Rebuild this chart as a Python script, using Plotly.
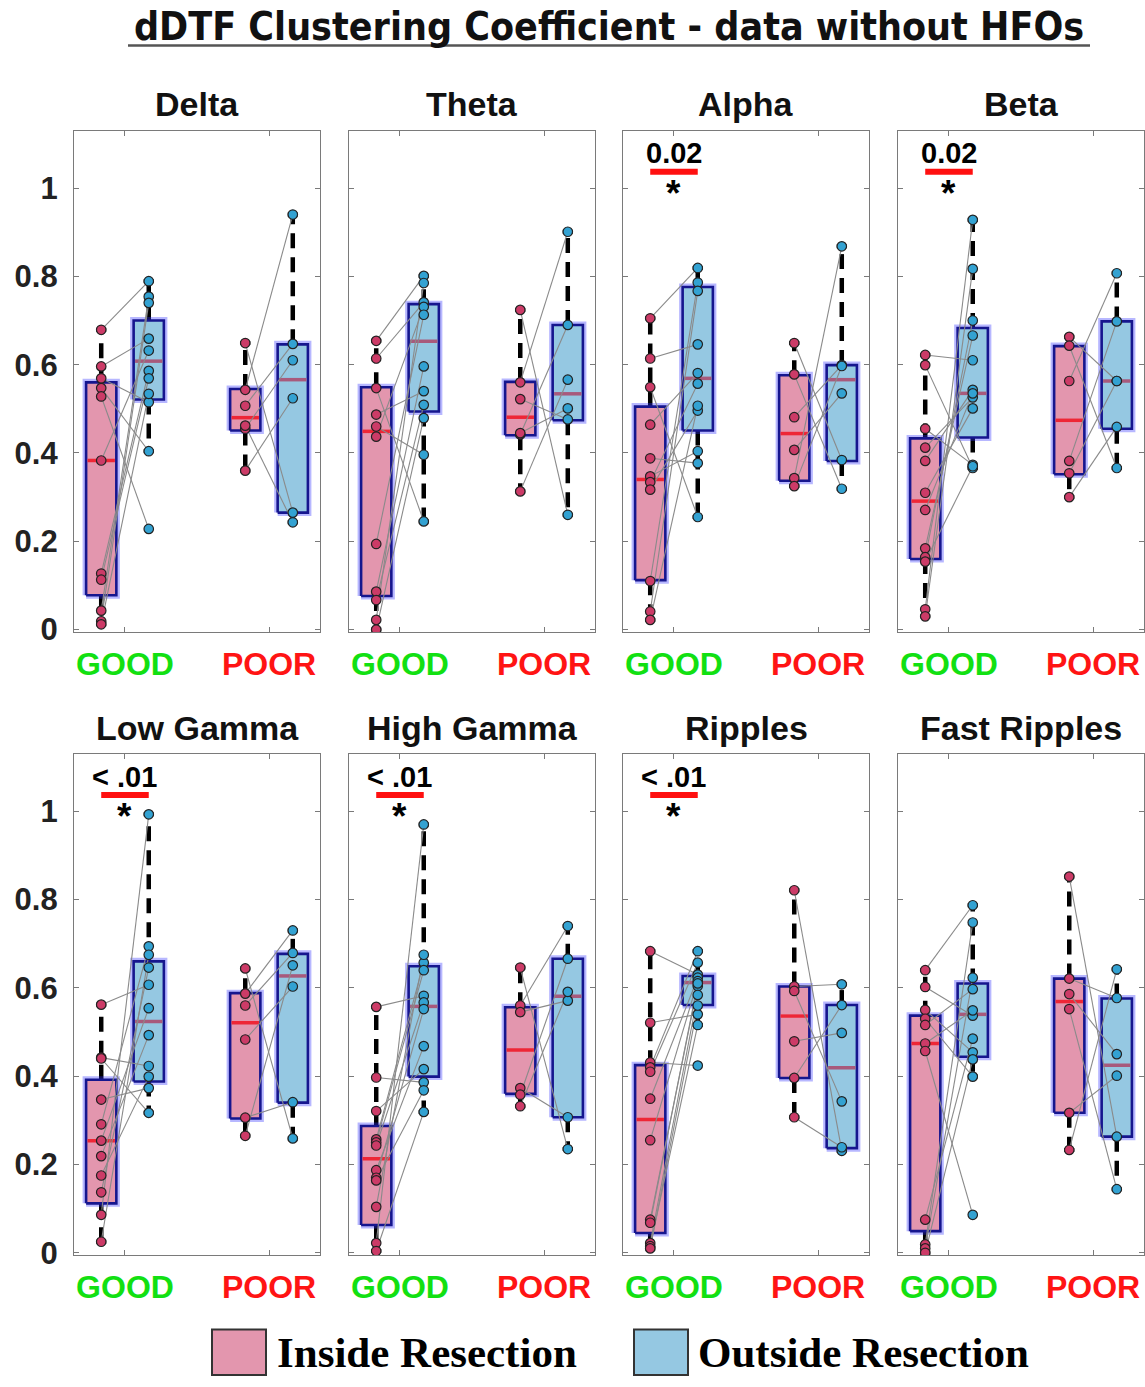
import plotly.graph_objects as go
from plotly.subplots import make_subplots

W, H = 1145, 1387

# ---------------- data ----------------
bands = ["Delta", "Theta", "Alpha", "Beta", "Low Gamma", "High Gamma", "Ripples", "Fast Ripples"]
group_labels = ["GOOD", "POOR"]
group_label_colors = ["#12e012", "#ff1414"]
y_tick_vals = [0, 0.2, 0.4, 0.6, 0.8, 1]
y_tick_text = ["0", "0.2", "0.4", "0.6", "0.8", "1"]
sig_text = ["", "", "0.02", "0.02", "< .01", "< .01", "< .01", ""]
legend_labels = ["Inside Resection", "Outside Resection"]

# paired values (same index = same patient): inside vs outside resection
delta_good_in = [0.679, 0.596, 0.569, 0.547, 0.528, 0.383, 0.127, 0.113, 0.043, 0.019, 0.012]
delta_good_out = [0.789, 0.659, 0.515, 0.404, 0.228, 0.632, 0.586, 0.569, 0.754, 0.740, 0.534]
delta_poor_in = [0.543, 0.649, 0.507, 0.455, 0.360, 0.462]
delta_poor_out = [0.940, 0.265, 0.647, 0.610, 0.524, 0.243]
delta_q1 = [0.078, 0.521, 0.451, 0.265]
delta_med = [0.383, 0.608, 0.480, 0.566]
delta_q3 = [0.560, 0.700, 0.545, 0.646]

theta_good_in = [0.654, 0.614, 0.547, 0.487, 0.460, 0.437, 0.194, 0.086, 0.067, 0.022, 0.000]
theta_good_out = [0.801, 0.741, 0.245, 0.540, 0.396, 0.731, 0.713, 0.596, 0.509, 0.785, 0.479]
theta_poor_in = [0.724, 0.560, 0.522, 0.442, 0.313, 0.445]
theta_poor_out = [0.260, 0.901, 0.476, 0.690, 0.566, 0.501]
theta_q1 = [0.076, 0.494, 0.440, 0.474]
theta_med = [0.449, 0.653, 0.481, 0.534]
theta_q3 = [0.549, 0.737, 0.561, 0.690]

alpha_good_in = [0.705, 0.614, 0.549, 0.464, 0.388, 0.347, 0.334, 0.317, 0.110, 0.041, 0.022]
alpha_good_out = [0.819, 0.646, 0.255, 0.581, 0.377, 0.404, 0.557, 0.496, 0.786, 0.767, 0.507]
alpha_poor_in = [0.649, 0.578, 0.481, 0.407, 0.343, 0.325]
alpha_poor_out = [0.384, 0.319, 0.599, 0.535, 0.868, 0.597]
alpha_q1 = [0.112, 0.451, 0.337, 0.382]
alpha_med = [0.340, 0.569, 0.444, 0.566]
alpha_q3 = [0.505, 0.776, 0.576, 0.599]

beta_good_in = [0.622, 0.599, 0.455, 0.412, 0.382, 0.310, 0.271, 0.184, 0.164, 0.154, 0.046, 0.030]
beta_good_out = [0.610, 0.366, 0.373, 0.526, 0.543, 0.501, 0.535, 0.666, 0.700, 0.370, 0.928, 0.817]
beta_poor_in = [0.663, 0.643, 0.563, 0.382, 0.354, 0.300]
beta_poor_out = [0.563, 0.366, 0.807, 0.698, 0.563, 0.459]
beta_q1 = [0.160, 0.435, 0.352, 0.455]
beta_med = [0.291, 0.535, 0.474, 0.563]
beta_q3 = [0.433, 0.683, 0.642, 0.698]

lowgamma_good_in = [0.562, 0.442, 0.440, 0.347, 0.291, 0.254, 0.219, 0.175, 0.137, 0.086, 0.025]
lowgamma_good_out = [0.607, 0.423, 0.317, 0.373, 0.694, 0.554, 0.493, 0.399, 0.646, 0.993, 0.675]
lowgamma_poor_in = [0.644, 0.587, 0.560, 0.483, 0.306, 0.265]
lowgamma_poor_out = [0.259, 0.730, 0.679, 0.603, 0.341, 0.651]
lowgamma_q1 = [0.112, 0.388, 0.304, 0.340]
lowgamma_med = [0.254, 0.524, 0.521, 0.627]
lowgamma_q3 = [0.392, 0.660, 0.588, 0.677]

highgamma_good_in = [0.557, 0.397, 0.321, 0.257, 0.250, 0.243, 0.187, 0.170, 0.164, 0.104, 0.022, 0.004]
highgamma_good_out = [0.582, 0.386, 0.416, 0.657, 0.640, 0.567, 0.468, 0.552, 0.368, 0.675, 0.970, 0.319]
highgamma_poor_in = [0.646, 0.560, 0.545, 0.373, 0.358, 0.332]
highgamma_poor_out = [0.235, 0.740, 0.571, 0.307, 0.666, 0.591]
highgamma_q1 = [0.063, 0.399, 0.360, 0.307]
highgamma_med = [0.213, 0.558, 0.459, 0.581]
highgamma_q3 = [0.287, 0.649, 0.556, 0.666]

ripples_good_in = [0.683, 0.521, 0.431, 0.420, 0.410, 0.349, 0.255, 0.075, 0.068, 0.022, 0.015, 0.010]
ripples_good_out = [0.630, 0.540, 0.424, 0.683, 0.657, 0.623, 0.615, 0.604, 0.610, 0.584, 0.516, 0.560]
ripples_poor_in = [0.821, 0.603, 0.593, 0.479, 0.396, 0.307]
ripples_poor_out = [0.231, 0.608, 0.343, 0.498, 0.561, 0.239]
ripples_q1 = [0.045, 0.561, 0.396, 0.237]
ripples_med = [0.302, 0.612, 0.536, 0.419]
ripples_q3 = [0.425, 0.627, 0.603, 0.561]

fastripples_good_in = [0.640, 0.602, 0.550, 0.530, 0.516, 0.474, 0.457, 0.075, 0.019, 0.010, 0.000]
fastripples_good_out = [0.787, 0.537, 0.454, 0.399, 0.597, 0.549, 0.086, 0.485, 0.748, 0.623, 0.438]
fastripples_poor_in = [0.852, 0.621, 0.586, 0.552, 0.317, 0.233]
fastripples_poor_out = [0.263, 0.577, 0.450, 0.144, 0.401, 0.642]
fastripples_q1 = [0.049, 0.444, 0.317, 0.263]
fastripples_med = [0.474, 0.540, 0.569, 0.425]
fastripples_q3 = [0.537, 0.610, 0.621, 0.576]

panels = [
    (delta_good_in, delta_good_out, delta_poor_in, delta_poor_out, delta_q1, delta_med, delta_q3),
    (theta_good_in, theta_good_out, theta_poor_in, theta_poor_out, theta_q1, theta_med, theta_q3),
    (alpha_good_in, alpha_good_out, alpha_poor_in, alpha_poor_out, alpha_q1, alpha_med, alpha_q3),
    (beta_good_in, beta_good_out, beta_poor_in, beta_poor_out, beta_q1, beta_med, beta_q3),
    (lowgamma_good_in, lowgamma_good_out, lowgamma_poor_in, lowgamma_poor_out, lowgamma_q1, lowgamma_med, lowgamma_q3),
    (highgamma_good_in, highgamma_good_out, highgamma_poor_in, highgamma_poor_out, highgamma_q1, highgamma_med, highgamma_q3),
    (ripples_good_in, ripples_good_out, ripples_poor_in, ripples_poor_out, ripples_q1, ripples_med, ripples_q3),
    (fastripples_good_in, fastripples_good_out, fastripples_poor_in, fastripples_poor_out, fastripples_q1, fastripples_med, fastripples_q3),
]

# ---------------- style ----------------
OFF = 0.165      # inside/outside offset from group centre
HALF = 0.105     # half box width
CAP = 0.035      # half cap width
FILLS = ["#e396ae", "#95c8e2"]
PTS = ["#cc3b67", "#33a2d2"]
MEDS = ["#ee2636", "#a85a7c"]
EDGE = "#16168e"
GLOW = "rgba(50,50,255,0.35)"
LINK = "#8a8a8a"
AXC = "#7a7a7a"

fig = make_subplots(rows=2, cols=4)

col_left = [74, 349, 623, 898]
panel_w = 246
row_top = [132.5, 762.5]
panel_h = 506.5
XR = [0.646, 2.354]
YR = [-0.0056, 1.129]


def px_x(px):
    return px / W


def px_y(py):
    return 1 - py / H


for i, (gi, go_, pi, po, q1s, meds, q3s) in enumerate(panels):
    r, c = i // 4 + 1, i % 4 + 1
    groups = [(1, gi, go_), (2, pi, po)]
    k = 0
    for g, vin, vout in groups:
        for side, vals in ((0, vin), (1, vout)):
            xc = g - OFF if side == 0 else g + OFF
            q1, md, q3 = q1s[k], meds[k], q3s[k]
            iqr = q3 - q1
            lo = min(v for v in vals if v >= q1 - 1.5 * iqr)
            hi = max(v for v in vals if v <= q3 + 1.5 * iqr)
            fig.add_trace(go.Scatter(x=[xc, xc, None, xc, xc], y=[q3, hi, None, q1, lo], mode="lines",
                                     line=dict(color="black", width=4.5, dash="15px,9px"),
                                     hoverinfo="skip", showlegend=False), row=r, col=c)
            fig.add_trace(go.Scatter(x=[xc - CAP, xc + CAP, None, xc - CAP, xc + CAP], y=[hi, hi, None, lo, lo],
                                     mode="lines", line=dict(color="black", width=4),
                                     hoverinfo="skip", showlegend=False), row=r, col=c)
            bx = [xc - HALF, xc + HALF, xc + HALF, xc - HALF, xc - HALF]
            by = [q1, q1, q3, q3, q1]
            fig.add_trace(go.Scatter(x=bx, y=by, mode="lines", line=dict(color=GLOW, width=7),
                                     hoverinfo="skip", showlegend=False), row=r, col=c)
            fig.add_trace(go.Scatter(x=bx, y=by, mode="lines", fill="toself", fillcolor=FILLS[side],
                                     line=dict(color=EDGE, width=2.6),
                                     hoverinfo="skip", showlegend=False), row=r, col=c)
            fig.add_trace(go.Scatter(x=[xc - HALF + 0.01, xc + HALF - 0.01], y=[md, md], mode="lines",
                                     line=dict(color=MEDS[side], width=3.5),
                                     hoverinfo="skip", showlegend=False), row=r, col=c)
            k += 1
    for g, vin, vout in groups:
        lx, ly = [], []
        for a, b in zip(vin, vout):
            lx += [g - OFF, g + OFF, None]
            ly += [a, b, None]
        fig.add_trace(go.Scatter(x=lx, y=ly, mode="lines", line=dict(color=LINK, width=1.1),
                                 hoverinfo="skip", showlegend=False), row=r, col=c)
    for g, vin, vout in groups:
        for side, vals in ((0, vin), (1, vout)):
            xc = g - OFF if side == 0 else g + OFF
            fig.add_trace(go.Scatter(x=[xc] * len(vals), y=vals, mode="markers",
                                     marker=dict(size=9.5, color=PTS[side], line=dict(color="#222", width=1.2)),
                                     showlegend=False), row=r, col=c)
    xa = "x" if i == 0 else f"x{i+1}"
    ya = "y" if i == 0 else f"y{i+1}"
    if sig_text[i]:
        fig.add_trace(go.Scatter(x=[1 - OFF, 1 + OFF], y=[1.037, 1.037], mode="lines",
                                 line=dict(color="#ff1010", width=6), hoverinfo="skip",
                                 showlegend=False), row=r, col=c)
        fig.add_annotation(x=1, y=1.040, xref=xa, yref=ya, xanchor="center", yanchor="bottom",
                           text=f"<b>{sig_text[i]}</b>", showarrow=False, borderpad=0,
                           font=dict(family="Liberation Sans", size=29, color="black"))
        fig.add_annotation(x=1, y=1.036, xref=xa, yref=ya, xanchor="center", yanchor="top",
                           text="<b>*</b>", showarrow=False, borderpad=0,
                           font=dict(family="Liberation Sans", size=37, color="black"))

    xl = col_left[c - 1]
    yt = row_top[r - 1]
    xkey = "xaxis" if i == 0 else f"xaxis{i+1}"
    ykey = "yaxis" if i == 0 else f"yaxis{i+1}"
    fig.layout[xkey].update(domain=[px_x(xl), px_x(xl + panel_w)], range=XR, showgrid=False, zeroline=False,
                            showline=True, linecolor=AXC, linewidth=1.2, mirror="ticks", ticks="inside",
                            ticklen=5, tickcolor=AXC, tickvals=[1, 2],
                            ticktext=[f'<span style="color:{group_label_colors[j]}"><b>{group_labels[j]}</b></span>'
                                      for j in range(2)],
                            tickfont=dict(family="Liberation Sans", size=32), ticklabelstandoff=3)
    fig.layout[ykey].update(domain=[px_y(yt + panel_h), px_y(yt)], range=YR, showgrid=False, zeroline=False,
                            showline=True, linecolor=AXC, linewidth=1.2, mirror="ticks", ticks="inside",
                            ticklen=5, tickcolor=AXC, tickvals=y_tick_vals,
                            ticktext=[f"<b>{t}</b>" for t in y_tick_text], showticklabels=(c == 1),
                            tickfont=dict(family="Liberation Sans", size=31, color="#222"), ticklabelstandoff=9)
    fig.add_annotation(x=px_x(xl + panel_w / 2), y=px_y(yt - 27), xref="paper", yref="paper",
                       text=f"<b>{bands[i]}</b>", showarrow=False, xanchor="center", yanchor="middle",
                       font=dict(family="Liberation Sans", size=34, color="#111"))

fig.add_annotation(x=px_x(609), y=px_y(27), xref="paper", yref="paper", xanchor="center", yanchor="middle",
                   text="<b>dDTF Clustering Coefficient - data without HFOs</b>", showarrow=False,
                   font=dict(family="DejaVu Sans Condensed, Open Sans", size=39, color="#111"))
fig.add_shape(type="line", xref="paper", yref="paper", x0=px_x(128), x1=px_x(1090), y0=px_y(46), y1=px_y(46),
              line=dict(color="#555", width=2.5))

leg_sq = [(212, 266), (634, 688)]
leg_tx = [275, 696]
for j in range(2):
    fig.add_shape(type="rect", xref="paper", yref="paper", x0=px_x(leg_sq[j][0]), x1=px_x(leg_sq[j][1]),
                  y0=px_y(1390), y1=px_y(1344), fillcolor=FILLS[j], line=dict(color="#333", width=2))
    fig.add_annotation(x=px_x(leg_tx[j]), y=px_y(1367), xref="paper", yref="paper", xanchor="left",
                       yanchor="middle", text=f"<b>{legend_labels[j]}</b>", showarrow=False,
                       font=dict(family="Liberation Serif", size=43, color="black"))

fig.update_layout(width=W, height=H, autosize=False, margin=dict(l=0, r=0, t=0, b=0),
                  paper_bgcolor="white", plot_bgcolor="white", showlegend=False)

post = """
var d=document.documentElement, b=document.body;
b.style.margin='0px'; b.style.padding='0px';
d.style.overflow='hidden'; b.style.overflow='hidden';
"""
fig.write_html("out.html", config={"displayModeBar": False}, post_script=post)
